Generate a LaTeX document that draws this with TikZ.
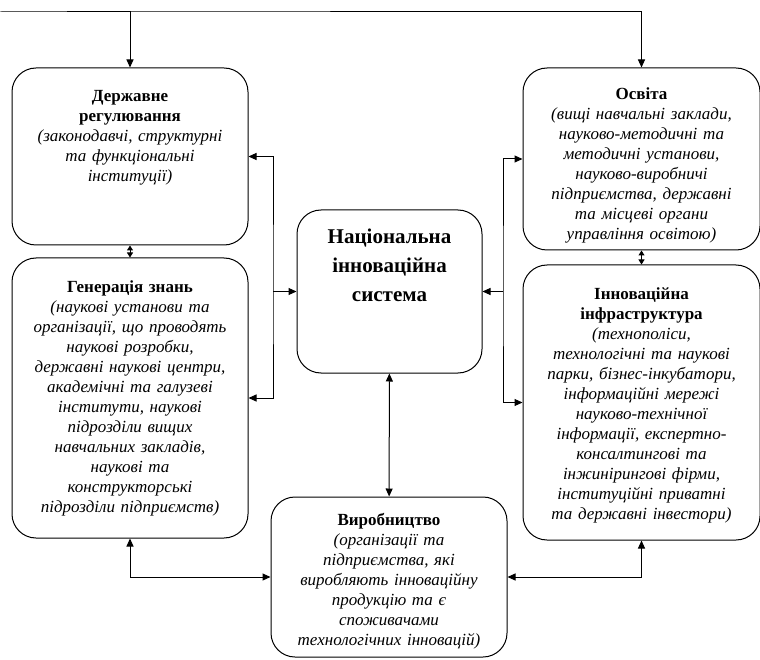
\documentclass[tikz,border=0pt]{standalone}
\usepackage{fontspec}
\setmainfont{Liberation Serif}
\usetikzlibrary{arrows.meta}
\begin{document}
\begin{tikzpicture}[x=1pt,y=-1pt,
        block/.style={draw, line width=1pt, rounded corners=24pt},
        caption/.style={anchor=north, align=center, text width=230pt, inner sep=0pt,
            font=\fontsize{17}{20}\selectfont},
        link/.style={line width=1pt, {Triangle[length=8pt,width=7pt]}-{Triangle[length=8pt,width=7pt]}},
        tolink/.style={line width=1pt, -{Triangle[length=8pt,width=7pt]}},
        shortlink/.style={line width=1pt, {Triangle[length=5pt,width=6pt]}-{Triangle[length=5pt,width=6pt]}}
    ]
    \useasboundingbox (0,0) rectangle (760,660);
    % boxes
    \node[block, minimum width=236pt, minimum height=177pt] (derzh) at (130,156.5) {};
    \node[block, minimum width=236pt, minimum height=280pt] (gen) at (130,398) {};
    \node[block, minimum width=237pt, minimum height=182pt] (osv) at (641.5,159) {};
    \node[block, minimum width=237pt, minimum height=275pt] (innov) at (641.5,402.5) {};
    \node[block, minimum width=185pt, minimum height=163pt] (nis) at (389.5,291.5) {};
    \node[block, minimum width=236pt, minimum height=160pt] (vyr) at (389,577) {};
    % texts
    \node[caption] (derzhtext) at ([yshift=-23pt]derzh.north)
        {\textbf{Державне\\регулювання}\\\itshape (законодавчі, структурні\\та функціональні\\інституції)};
    \node[caption] (gentext) at ([yshift=-23pt]gen.north)
        {\textbf{Генерація знань}\\\itshape (наукові установи та\\організації, що проводять\\наукові розробки,\\державні наукові центри,\\академічні та галузеві\\інститути, наукові\\підрозділи вищих\\навчальних закладів,\\наукові та\\конструкторські\\підрозділи підприємств)};
    \node[caption] (osvtext) at ([yshift=-20pt]osv.north)
        {\textbf{Освіта}\\\itshape (вищі навчальні заклади,\\науково-методичні та\\методичні установи,\\науково-виробничі\\підприємства, державні\\та місцеві органи\\управління освітою)};
    \node[caption] (innovtext) at ([yshift=-23pt]innov.north)
        {\textbf{Інноваційна\\інфраструктура}\\\itshape (технополіси,\\технологічні та наукові\\парки, бізнес-інкубатори,\\інформаційні мережі\\науково-технічної\\інформації, експертно-\\консалтингові та\\інжинірингові фірми,\\інституційні приватні\\та державні інвестори)};
    \node[caption] (vyrtext) at ([yshift=-17pt]vyr.north)
        {\textbf{Виробництво}\\\itshape (організації та\\підприємства, які\\виробляють інноваційну\\продукцію та є\\споживачами\\технологічних інновацій)};
    \node[caption, text width=180pt, font=\fontsize{21}{29}\selectfont\bfseries] (nistext) at ([yshift=-19pt]nis.north)
        {Національна\\інноваційна\\система};
    % buses
    \coordinate (lbus) at (273,291.5);
    \coordinate (rbus) at (503,291.5);
    \coordinate (top) at (0,12);
    % connectors
    \draw[link] (derzh.north) |- (top) -| (osv.north);
    \draw[shortlink] (derzh) -- (gen);
    \draw[shortlink] (osv) -- (innov);
    \draw[link] (derzh.east) -| (lbus) |- (gen.east);
    \draw[tolink] (lbus) -- (nis.west);
    \draw[link] (osv.west) -| (rbus) |- (innov.west);
    \draw[tolink] (rbus) -- (nis.east);
    \draw[link] (nis) -- (vyr);
    \draw[link] (gen.south) |- (vyr.west);
    \draw[link] (innov.south) |- (vyr.east);
\end{tikzpicture}
\end{document}
